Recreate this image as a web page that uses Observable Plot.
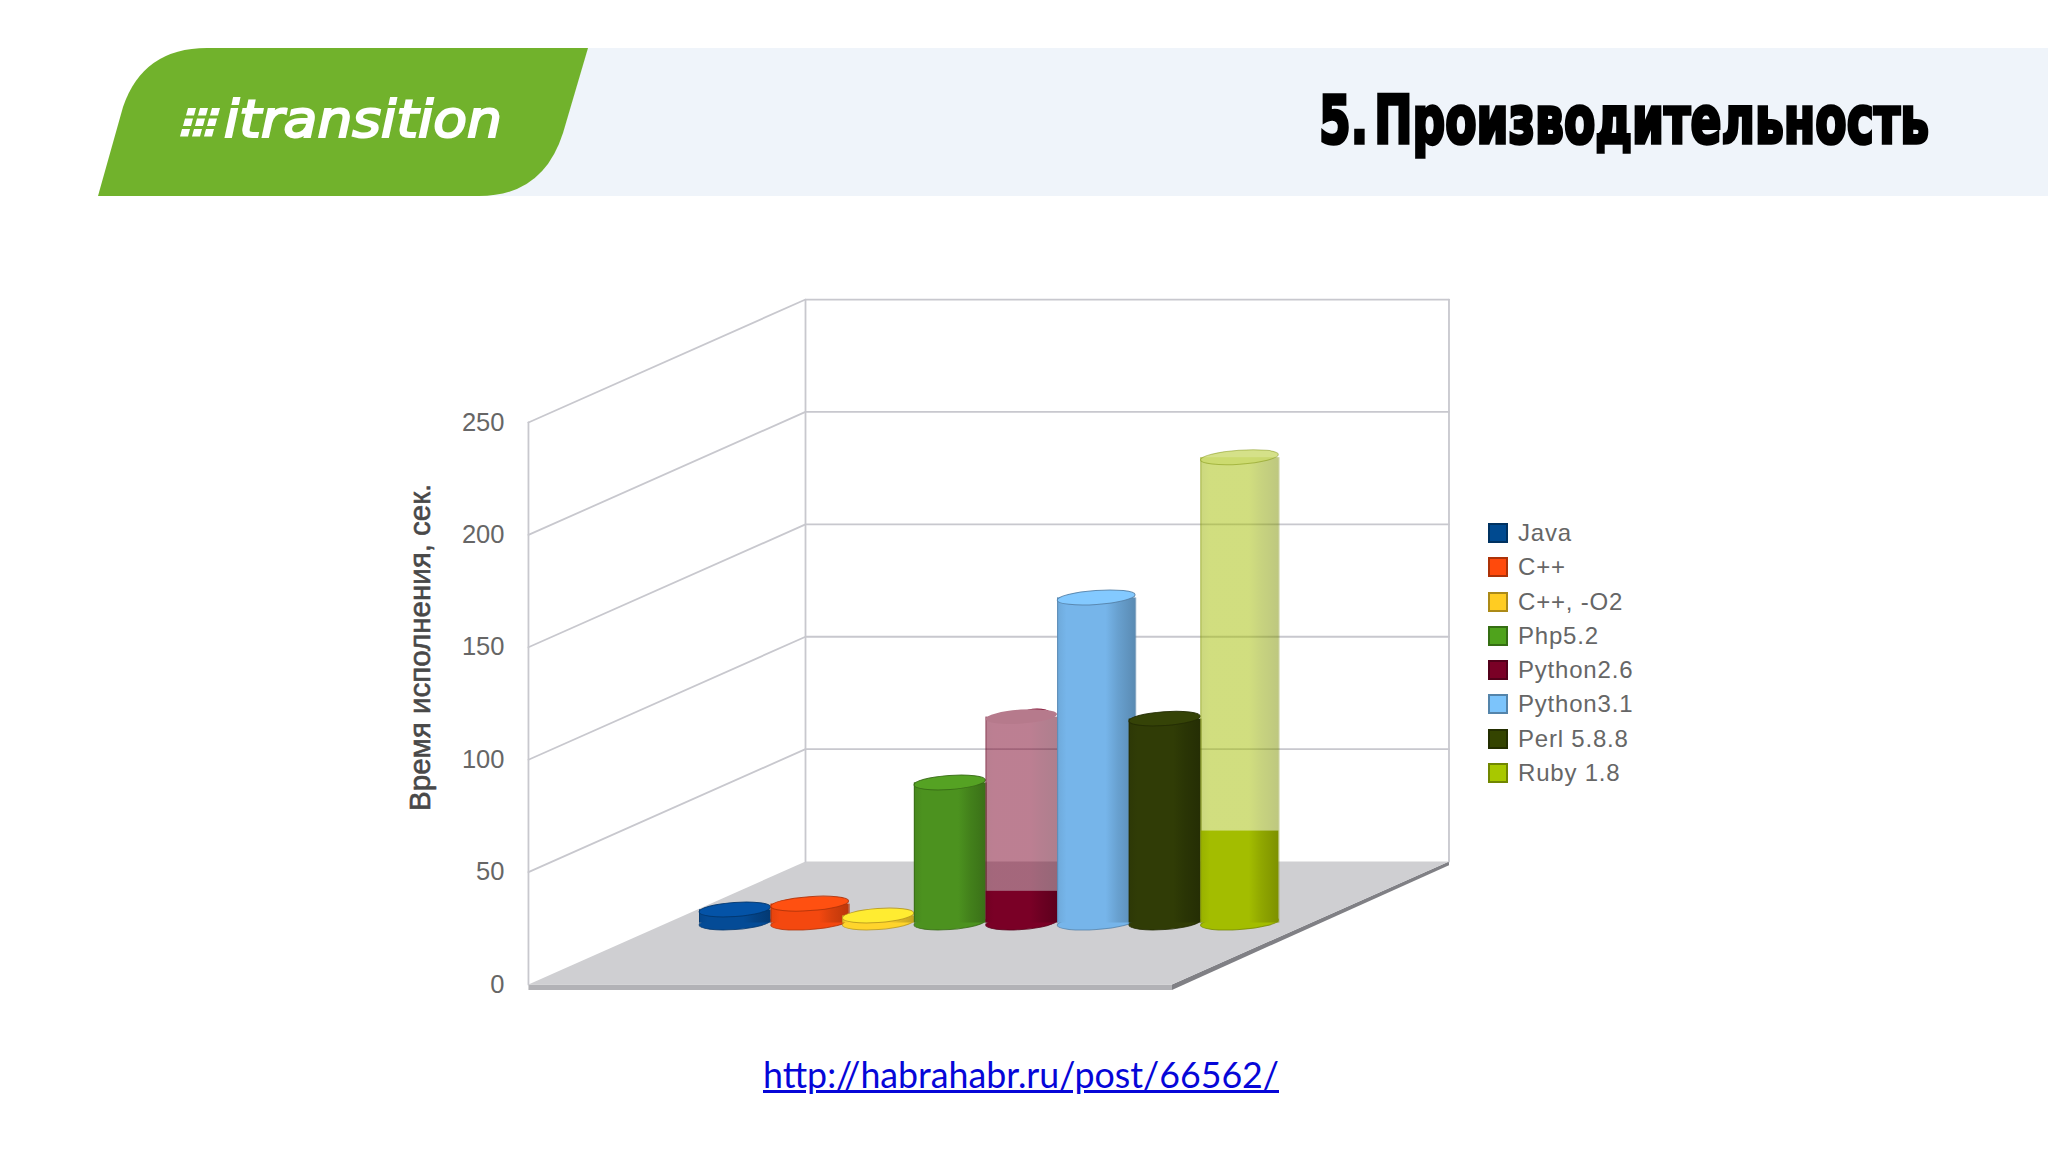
<!DOCTYPE html>
<html lang="ru">
<head>
<meta charset="utf-8">
<title>5. Производительность</title>
<script src="https://cdn.jsdelivr.net/npm/d3@7"></script>
<script src="https://cdn.jsdelivr.net/npm/@observablehq/plot@0.6"></script>
<style>
  html, body { margin: 0; padding: 0; background: #fff; }
  #page { position: relative; width: 2048px; height: 1152px; overflow: hidden; background: #fff; }
  #page > svg { position: absolute; left: 0; top: 0; }
  #title { position: absolute; left: 1319px; top: 82px; font: bold 66px "DejaVu Sans", sans-serif; word-spacing: -14px;
           color: #000; white-space: nowrap; transform-origin: 0 0; -webkit-text-stroke: 3.5px #000; }
  #link { position: absolute; left: 763px; top: 1051px; font: 37px "Lato", sans-serif; color: #0606d8; text-decoration: underline; white-space: nowrap; transform-origin: 0 0; }
  #legend { position: absolute; left: 1488px; top: 523px; font: 24px "Liberation Sans", sans-serif; color: #666; letter-spacing: .8px; }
  #legend div { position: relative; height: 34.3px; }
  #legend i { position: absolute; left: 0; top: 0; width: 16px; height: 16px; border: 2px solid; }
  #legend span { position: absolute; left: 30px; top: -4px; white-space: nowrap; }
</style>
</head>
<body>
<div id="page">
  <svg id="banner" width="2048" height="200" viewBox="0 0 2048 200">
    <rect x="470" y="48" width="1578" height="148" fill="#eff4fa"/>
    <path d="M98 196 L123 107 Q143 48 207 48 L588 48 L563 133 Q543 196 479 196 Z" fill="#71b22c"/>
    <g id="dots" fill="#fff"></g>
    <text x="224" y="137" textLength="278" lengthAdjust="spacingAndGlyphs" fill="#fff" stroke="#fff" stroke-width="2.2"
          font-family="DejaVu Sans" font-style="italic" font-size="52">itransition</text>
  </svg>
  <div id="title">5. Производительность</div>
  <div id="legend"></div>
  <a id="link" href="http://habrahabr.ru/post/66562/">http://habrahabr.ru/post/66562/</a>
</div>
<script>
// ---- data ----
const categories = ["Java", "C++", "C++, -O2", "Php5.2", "Python2.6", "Python3.1", "Perl 5.8.8", "Ruby 1.8"];
const times      = [5.8, 8.4, 3.1, 62.3, 91.6, 144.6, 90.7, 207];
const solidUpTo  = [5.8, 8.4, 3.1, 62.3, 14.2, 144.6, 90.7, 41];   // the rest of the column is washed out in the slide
const colors     = ["#044b96", "#f4480f", "#ffd42c", "#4c921f", "#7a0026", "#76b5ea", "#303c06", "#a3bd00"];
const legendFill = ["#004a90", "#ff4a0c", "#ffcc22", "#4fa31c", "#7a0026", "#7cc4fb", "#344400", "#a8c800"];
const visibleW   = [1, 1.09, 1, 1, 1, 1.09, 1, 1.09];   // visible width of each column, in slots
const yTicks     = [0, 50, 100, 150, 200, 250];
const yTitle     = "Время исполнения, сек.";

// ---- the 3D box, in data units: x in category slots, y in seconds ----
const DEPTH_X = 3.868, DEPTH_Y = 54.7, BAR_DEPTH = 0.5;
const X0 = -0.454, X1 = 8.53;
const proj = (x, v, d) => ({x: x + (d - BAR_DEPTH) * DEPTH_X, y: v + d * DEPTH_Y});
const base = BAR_DEPTH * DEPTH_Y;

const gridLines = yTicks.slice(1).flatMap(v => [
  {v, ...proj(X0, v, 0)}, {v, ...proj(X0, v, 1)}, {v, ...proj(X1, v, 1)}
]);
const verticals = [[X0, 0], [X0, 1], [X1, 1]].flatMap(([x, d], k) => [
  {k, ...proj(x, 0, d)}, {k, ...proj(x, 250, d)}
]);
const floorTop = [proj(X0, 0, 0), proj(X1, 0, 0), proj(X1, 0, 1), proj(X0, 0, 1)];
const floorFront = [proj(X0, 0, 0), proj(X1, 0, 0), proj(X1, -2.4, 0), proj(X0, -2.4, 0)];
const floorSide = [proj(X1, 0, 0), proj(X1, 0, 1), proj(X1, -1.6, 1), proj(X1, -2.4, 0)];

// gradient definitions used by the columns
const defs = () => {
  const s = d3.create("svg:defs");
  colors.forEach((c, i) => {
    const g = s.append("linearGradient").attr("id", `cyl${i}`);
    const dark = d3.color(c).darker(0.35), darker = d3.color(c).darker(0.75);
    [[0, d3.color(c).darker(0.2)], [.12, c], [.62, c], [.78, dark], [1, darker]].forEach(([o, col]) =>
      g.append("stop").attr("offset", o).attr("stop-color", col));
  });
  return s.node();
};

// tilted ellipse: the top or the foot of a column, placed through the scales
const disc = (i, value, fill, opacity = 1, strokeOpacity = 0.8) => (index, {x, y}) => {
  const x1 = x(i), x2 = x(i + visibleW[i]);
  return d3.create("svg:ellipse")
    .attr("cx", (x1 + x2) / 2).attr("cy", y(base + value))
    .attr("rx", (x2 - x1) / 2).attr("ry", 7)
    .attr("transform", `rotate(-4 ${(x1 + x2) / 2} ${y(base + value)})`)
    .attr("fill", fill).attr("fill-opacity", opacity)
    .attr("stroke", d3.color(colors[i]).darker(0.9)).attr("stroke-opacity", strokeOpacity)
    .node();
};
// the sliver of the original dark top that survives above the washed-out Python2.6 column
const sliver = (i, value) => (index, {x, y}) => d3.create("svg:ellipse")
  .attr("cx", x(i + 0.72)).attr("cy", y(base + value) - 5)
  .attr("rx", 12).attr("ry", 3).attr("fill", colors[i]).node();

const columnMarks = categories.flatMap((c, i) => {
  const grad = `url(#cyl${i})`, edge = d3.color(colors[i]).darker(0.9).formatHex();
  const v = times[i], s = solidUpTo[i], w = visibleW[i], faded = s < v;
  const marks = [
    disc(i, 0, colors[i]),
    Plot.rectY([c], {x1: () => i, x2: () => i + w, y1: () => base, y2: () => base + s, fill: grad})
  ];
  if (faded) marks.push(
    Plot.rectY([c], {x1: () => i, x2: () => i + w, y1: () => base + s, y2: () => base + v, fill: grad, fillOpacity: .5})
  );
  if (i === 4) marks.push(sliver(i, v));
  marks.push(
    Plot.ruleX([i, i + w], {y1: base, y2: base + v, stroke: edge, strokeWidth: 1, strokeOpacity: faded ? .45 : .8}),
    i === 4
      ? disc(i, v, "#b67a8c", 1, 0)
      : disc(i, v, faded ? d3.interpolateRgb(colors[i], "#fff")(.42) : d3.color(colors[i]).brighter(0.3).formatHex(), faded ? .8 : 1, faded ? .45 : .9)
  );
  return marks;
});

const chart = Plot.plot({
  width: 2048, height: 1152, margin: 0,
  style: {background: "transparent", overflow: "visible"},
  x: {domain: [0, 8], range: [699, 1272], axis: null},
  y: {domain: [0, 250], range: [984, 422], axis: null},
  marks: [
    defs,
    Plot.line(floorFront, {x: "x", y: "y", fill: "#b2b2b6", stroke: "none"}),
    Plot.line(floorSide, {x: "x", y: "y", fill: "#808085", stroke: "none"}),
    Plot.line(floorTop, {x: "x", y: "y", fill: "#cfcfd2", stroke: "none"}),
    Plot.line(gridLines, {x: "x", y: "y", z: "v", stroke: "#c8c8ce", strokeWidth: 1.8}),
    Plot.line(verticals, {x: "x", y: "y", z: "k", stroke: "#c8c8ce", strokeWidth: 1.8}),
    ...columnMarks,
    Plot.text(yTicks, {
      x: () => proj(X0, 0, 0).x, y: d => d, text: d => String(d), dx: -24,
      textAnchor: "end", fontSize: 25.5, fontFamily: "Liberation Sans", fill: "#666"
    }),
    Plot.text([yTitle], {
      x: () => -3.897, y: () => 150, rotate: -90, text: d => d,
      fontSize: 29.5, fontFamily: "Liberation Sans", fill: "#484848", stroke: "#484848", strokeWidth: 0.6
    })
  ]
});
document.getElementById("page").appendChild(chart);

// legend
d3.select("#legend").selectAll("div").data(categories).join("div").each(function (d, i) {
  const el = d3.select(this);
  el.append("i").style("background", legendFill[i]).style("border-color", d3.color(legendFill[i]).darker(1.1));
  el.append("span").text(d);
});

// logo dots
const dots = d3.select("#dots");
for (let r = 0; r < 3; r++) for (let c = 0; c < 3; c++) {
  const y = 108 + r * 10.5, x = 186 - r * 3 + c * 12;
  dots.append("path").attr("d", `M${x + 2} ${y} h8 l-2 7.5 h-8 z`);
}

// fit title and link widths to the reference
const fit = (id, w) => {
  const el = document.getElementById(id);
  el.style.transform = `scaleX(${w / el.getBoundingClientRect().width})`;
};
document.fonts.ready.then(() => { fit("title", 610); fit("link", 516); });
</script>
</body>
</html>
